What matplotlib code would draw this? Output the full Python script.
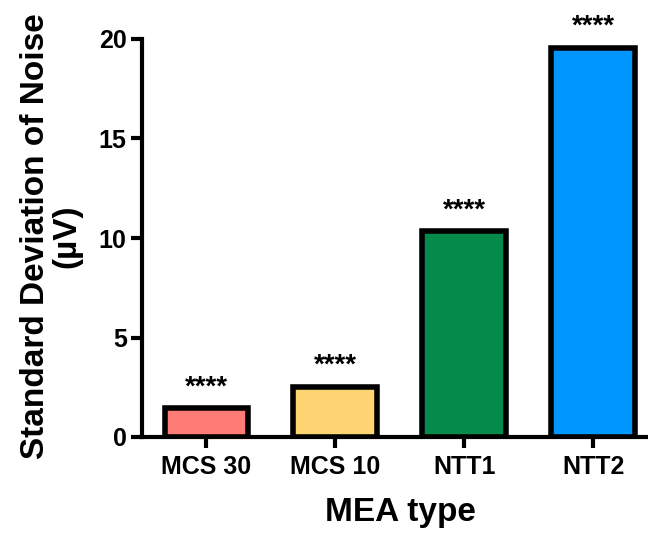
import matplotlib
matplotlib.use("Agg")
import matplotlib.pyplot as plt

categories = ["MCS 30", "MCS 10", "NTT1", "NTT2"]
values = [1.45, 2.52, 10.34, 19.55]
errors = [0.03, 0.03, 0.06, 0.05]
stars = ["****", "****", "****", "****"]
colors = ["#FF7B75", "#FFD574", "#048A4A", "#0096FF"]
yticks = [0, 5, 10, 15, 20]

plt.rcParams['font.family'] = ['Liberation Sans', 'DejaVu Sans']
plt.rcParams['font.weight'] = 'bold'

fig = plt.figure(figsize=(6.48, 5.35), dpi=100)
ax = fig.add_axes([142/648, 1-437/535, (646-142)/648, (437-39)/535])

x = list(range(len(categories)))
ax.bar(x, values, width=0.65, color=colors, edgecolor='black', linewidth=4, zorder=2)
ax.errorbar(x, values, yerr=[[0]*len(values), errors], fmt='none', ecolor='black',
            elinewidth=2, capsize=16, capthick=2, zorder=3)
for xi, v, s in zip(x, values, stars):
    ax.text(xi, v + 0.7, s, ha='center', va='baseline', fontsize=20, fontweight='bold')

ax.set_xlim(-0.5, 3.41)
ax.set_ylim(0, 20)
ax.set_yticks(yticks)
ax.set_xticks(x)
ax.set_xticklabels(categories)
for sp in ['top', 'right']:
    ax.spines[sp].set_visible(False)
for sp in ['left', 'bottom']:
    ax.spines[sp].set_linewidth(3)
ax.tick_params(axis='both', width=3, length=8, labelsize=18)
ax.tick_params(axis='x', pad=5)
ax.tick_params(axis='y', pad=3)
for lab in ax.get_xticklabels() + ax.get_yticklabels():
    lab.set_fontweight('bold')

fig.text(51/648, 1-236/535, "Standard Deviation of Noise\n(µV)", rotation=90,
         ha='center', va='center', multialignment='center', fontsize=24,
         fontweight='bold', linespacing=1.0)
fig.text(400/648, 1-513/535, "MEA type", ha='center', va='center', fontsize=24,
         fontweight='bold')

fig.savefig("out.png", dpi=100)
